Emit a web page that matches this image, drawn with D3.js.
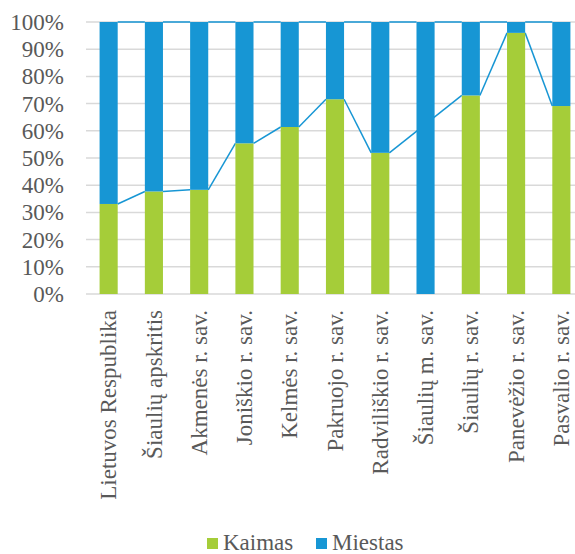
<!DOCTYPE html>
<html>
<head>
<meta charset="utf-8">
<script src="https://cdn.jsdelivr.net/npm/d3@7"></script>
<style>
  body { margin: 0; background: #fff; }
  #chart svg text { font-family: "Liberation Serif", serif; }
</style>
</head>
<body>
<div id="chart"></div>
<script>
// categories and shares (Kaimas = rural, Miestas = urban)
var categories = ["Lietuvos Respublika", "Šiaulių apskritis", "Akmenės r. sav.", "Joniškio r. sav.",
  "Kelmės r. sav.", "Pakruojo r. sav.", "Radviliškio r. sav.", "Šiaulių m. sav.",
  "Šiaulių r. sav.", "Panevėžio r. sav.", "Pasvalio r. sav."];
var kaimas = [0.331, 0.377, 0.383, 0.554, 0.614, 0.716, 0.519, null, 0.730, 0.960, 0.691];
var miestas = kaimas.map(function(k) { return 1 - (k || 0); });
var yTicks = [0, 0.1, 0.2, 0.3, 0.4, 0.5, 0.6, 0.7, 0.8, 0.9, 1];
var seriesNames = ["Kaimas", "Miestas"];
var colors = ["#a5cd39", "#1796d4"];

var fontFam = "Liberation Serif";
var width = 575, height = 554;

var svg = d3.select("#chart").append("svg")
  .attr("width", width)
  .attr("height", height);

var x = d3.scaleBand()
  .domain(categories)
  .range([86, 584])
  .paddingInner(0.6)
  .paddingOuter(0.3);

var y = d3.scaleLinear()
  .domain([0, 1])
  .range([294, 22]);

// gridlines
svg.append("g").selectAll("line")
  .data(yTicks)
  .enter().append("line")
  .attr("x1", 86).attr("x2", width)
  .attr("y1", function(d) { return y(d); })
  .attr("y2", function(d) { return y(d); })
  .attr("stroke", "#d9d9d9")
  .attr("stroke-width", 1.5);

// y axis labels
var yAxis = d3.axisLeft(y)
  .tickValues(yTicks)
  .tickFormat(d3.format(".0%"))
  .tickSize(0)
  .tickPadding(0);
var yg = svg.append("g")
  .attr("transform", "translate(64,0)")
  .call(yAxis)
  .attr("font-family", fontFam)
  .attr("font-size", 23);
yg.select(".domain").remove();
yg.selectAll("text")
  .attr("x", 0)
  .attr("dy", "0.33em")
  .attr("fill", "#595959");

// series lines (drawn under bars), skipping missing values
var stacked = categories.map(function(c, i) {
  return { cat: c, k: kaimas[i], m: miestas[i] };
});
var kPts = stacked.filter(function(d) { return d.k !== null; });
var segs = [];
for (var i = 0; i < kPts.length - 1; i++) {
  segs.push([x(kPts[i].cat) + x.bandwidth(), kPts[i].k, x(kPts[i + 1].cat), kPts[i + 1].k]);
}
for (var j = 0; j < stacked.length - 1; j++) {
  segs.push([x(stacked[j].cat) + x.bandwidth(), 1, x(stacked[j + 1].cat), 1]);
}
svg.append("g").selectAll("line")
  .data(segs)
  .enter().append("line")
  .attr("x1", function(d) { return d[0]; })
  .attr("y1", function(d) { return y(d[1]); })
  .attr("x2", function(d) { return d[2]; })
  .attr("y2", function(d) { return y(d[3]); })
  .attr("stroke", colors[1])
  .attr("stroke-width", 1.5);

// bars
var bars = svg.append("g");
bars.selectAll(".k")
  .data(stacked.filter(function(d) { return d.k !== null; }))
  .enter().append("rect")
  .attr("class", "k")
  .attr("x", function(d) { return x(d.cat); })
  .attr("width", x.bandwidth())
  .attr("y", function(d) { return y(d.k); })
  .attr("height", function(d) { return y(0) - y(d.k); })
  .attr("fill", colors[0]);
bars.selectAll(".m")
  .data(stacked)
  .enter().append("rect")
  .attr("class", "m")
  .attr("x", function(d) { return x(d.cat); })
  .attr("width", x.bandwidth())
  .attr("y", function(d) { return y(1); })
  .attr("height", function(d) { return y(d.k || 0) - y(1); })
  .attr("fill", colors[1]);

// x axis labels
var xAxis = d3.axisBottom(x).tickSize(0).tickPadding(0);
var xg = svg.append("g")
  .attr("transform", "translate(0,294)")
  .call(xAxis)
  .attr("font-family", fontFam)
  .attr("font-size", 23);
xg.select(".domain").remove();
xg.selectAll("text")
  .attr("transform", "rotate(-90)")
  .attr("x", -16)
  .attr("y", 0)
  .attr("dy", "0.33em")
  .attr("text-anchor", "end")
  .attr("fill", "#595959");

// legend
var legendX = [207, 316];
var legend = svg.append("g")
  .attr("font-family", fontFam)
  .attr("font-size", 23)
  .selectAll("g")
  .data(seriesNames)
  .enter().append("g")
  .attr("transform", function(d, i) { return "translate(" + legendX[i] + ",538)"; });
legend.append("rect")
  .attr("width", 11).attr("height", 11)
  .attr("fill", function(d, i) { return colors[i]; });
legend.append("text")
  .attr("x", 16).attr("y", 11.5)
  .attr("fill", "#595959")
  .text(function(d) { return d; });
</script>
</body>
</html>
